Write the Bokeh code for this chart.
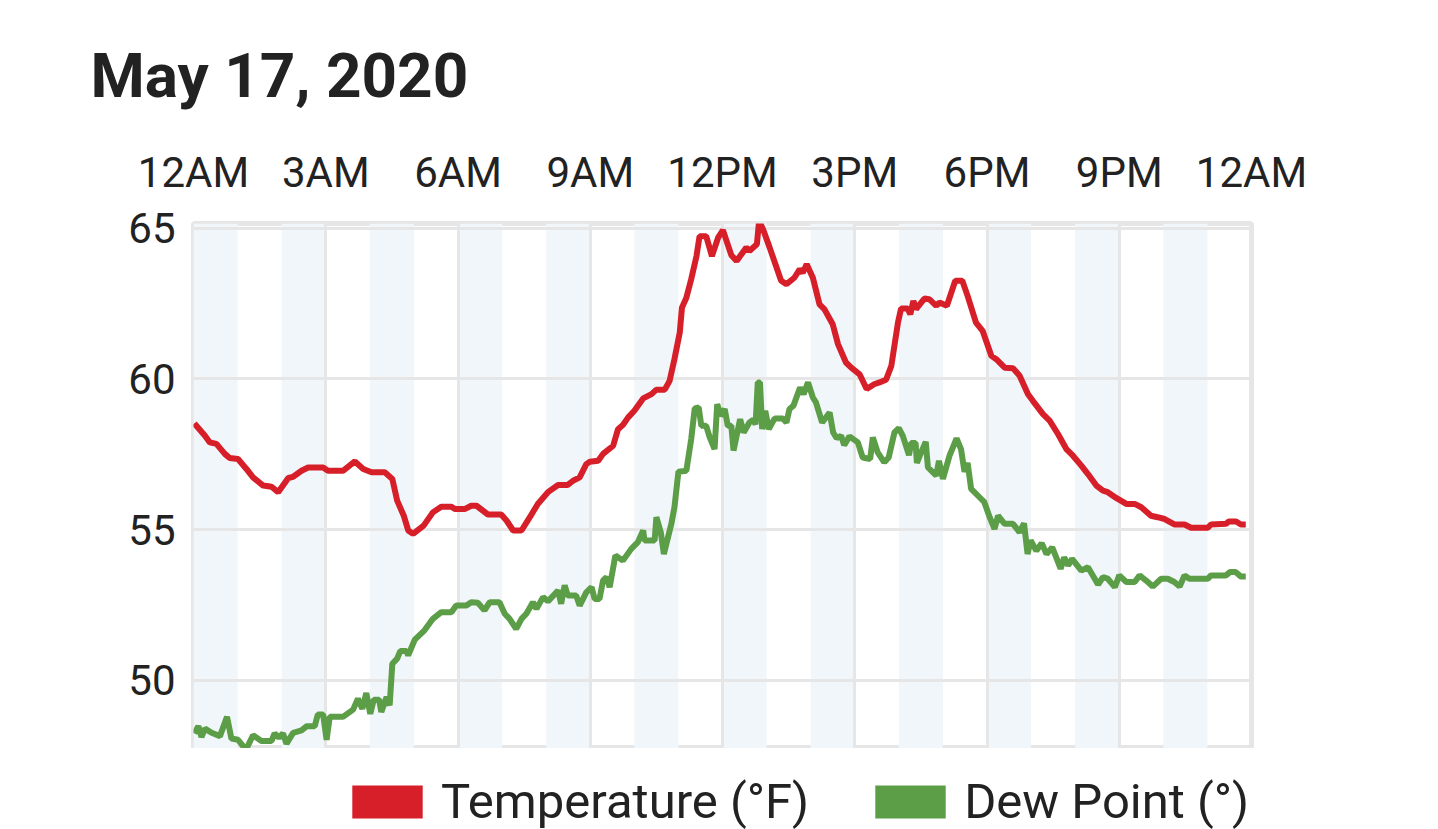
from bokeh.plotting import figure
from bokeh.models import FixedTicker, Range1d, Legend, LegendItem
from bokeh.layouts import column
from bokeh.embed import file_html
from bokeh.resources import INLINE

RED = "#d71f2a"
GREEN = "#5c9e48"
TXT = "#222222"
FONT = "Roboto"

title_text = "May 17, 2020"

temp_hours = [0.02, 0.26, 0.37, 0.52, 0.71, 0.82, 1.01, 1.2, 1.35, 1.58, 1.77, 1.92, 2.15, 2.26, 2.45, 2.6,
              2.94, 3.05, 3.39, 3.66, 3.85, 4.04, 4.34, 4.51, 4.62, 4.77, 4.87, 4.98, 5.22, 5.43, 5.62, 5.85,
              5.93, 6.15, 6.3, 6.42, 6.68, 6.98, 7.1, 7.25, 7.44, 7.63, 7.81, 8.04, 8.27, 8.49, 8.61, 8.76,
              8.91, 8.99, 9.18, 9.29, 9.52, 9.63, 9.74, 9.86, 10.0, 10.2, 10.39, 10.5, 10.69, 10.8, 10.91,
              11.03, 11.08, 11.18, 11.29, 11.41, 11.48, 11.63, 11.76, 11.9, 12.01, 12.2, 12.32, 12.54, 12.61,
              12.78, 12.83, 12.92, 13.07, 13.33, 13.45, 13.63, 13.75, 13.82, 13.91, 14.05, 14.2, 14.31, 14.5,
              14.62, 14.8, 14.92, 15.11, 15.27, 15.44, 15.56, 15.71, 15.83, 15.98, 16.05, 16.2, 16.26, 16.33,
              16.39, 16.58, 16.69, 16.85, 16.92, 17.09, 17.28, 17.44, 17.56, 17.75, 17.9, 18.1, 18.21, 18.4,
              18.59, 18.74, 18.93, 19.04, 19.27, 19.42, 19.61, 19.8, 19.95, 20.14, 20.29, 20.48, 20.63, 20.74,
              20.93, 21.16, 21.35, 21.5, 21.72, 21.87, 22.03, 22.25, 22.48, 22.63, 23.01, 23.08, 23.42, 23.49,
              23.65, 23.76, 23.87]
temp_f = [58.52, 58.11, 57.89, 57.84, 57.51, 57.37, 57.34, 57.01, 56.73, 56.46, 56.42, 56.24, 56.71, 56.75, 56.95, 57.06,
          57.06, 56.95, 56.95, 57.26, 57.01, 56.9, 56.9, 56.68, 55.96, 55.46, 54.97, 54.86, 55.13, 55.57, 55.76, 55.76,
          55.68, 55.68, 55.79, 55.79, 55.5, 55.5, 55.3, 54.97, 54.97, 55.41, 55.85, 56.24, 56.48, 56.48, 56.62, 56.73,
          57.17, 57.25, 57.28, 57.51, 57.78, 58.33, 58.47, 58.72, 58.94, 59.35, 59.49, 59.64, 59.64, 59.93, 60.65,
          61.53, 62.36, 62.69, 63.3, 64.07, 64.73, 64.73, 64.07, 64.68, 64.93, 64.1, 63.91, 64.35, 64.24,
          64.46, 65.23, 64.96, 64.35, 63.25, 63.14, 63.35, 63.63, 63.52, 63.8, 63.35, 62.47, 62.31, 61.81,
          61.15, 60.54, 60.37, 60.15, 59.66, 59.82, 59.88, 59.97, 60.43, 61.86, 62.33, 62.33, 62.14, 62.58,
          62.31, 62.66, 62.64, 62.42, 62.53, 62.42, 63.25, 63.25, 62.75, 61.86, 61.59, 60.76, 60.65, 60.37,
          60.35, 60.1, 59.49, 59.27, 58.83, 58.61, 58.17, 57.67, 57.45, 57.12, 56.84, 56.46, 56.29, 56.24,
          56.05, 55.85, 55.85, 55.74, 55.46, 55.41, 55.35, 55.17, 55.17, 55.06, 55.06, 55.17, 55.19, 55.27,
          55.27, 55.17, 55.17]

dew_hours = [0.02, 0.11, 0.18, 0.26, 0.41, 0.6, 0.76, 0.86, 1.01, 1.19, 1.35, 1.54, 1.77, 1.84, 1.94, 2.03, 2.11,
             2.26, 2.45, 2.57, 2.75, 2.82, 2.94, 3.02, 3.09, 3.39, 3.62, 3.73, 3.83, 3.92, 4.01, 4.09, 4.21, 4.26,
             4.38, 4.45, 4.51, 4.62, 4.69, 4.83, 4.87, 5.02, 5.24, 5.43, 5.62, 5.85, 5.96, 6.19, 6.3, 6.45, 6.6,
             6.72, 6.94, 7.06, 7.17, 7.32, 7.44, 7.55, 7.7, 7.78, 7.93, 8.04, 8.27, 8.34, 8.42, 8.49, 8.68, 8.76,
             8.91, 9.03, 9.1, 9.21, 9.29, 9.37, 9.44, 9.57, 9.74, 9.93, 10.08, 10.2, 10.23, 10.46, 10.5, 10.6,
             10.67, 10.84, 10.91, 11.0, 11.18, 11.29, 11.37, 11.46, 11.52, 11.63, 11.71, 11.82, 11.88, 11.96,
             12.05, 12.12, 12.2, 12.25, 12.4, 12.48, 12.61, 12.7, 12.75, 12.8, 12.85, 12.9, 12.97, 13.05, 13.18,
             13.37, 13.45, 13.52, 13.61, 13.76, 13.84, 13.94, 14.05, 14.12, 14.26, 14.43, 14.51, 14.59, 14.69,
             14.76, 14.88, 15.07, 15.18, 15.35, 15.41, 15.52, 15.67, 15.77, 15.9, 16.0, 16.09, 16.23, 16.28,
             16.38, 16.41, 16.49, 16.61, 16.66, 16.85, 16.91, 17.0, 17.15, 17.31, 17.41, 17.49, 17.56, 17.64,
             17.79, 17.94, 18.06, 18.17, 18.25, 18.4, 18.59, 18.74, 18.84, 18.92, 18.99, 19.12, 19.24, 19.35,
             19.48, 19.57, 19.67, 19.75, 19.84, 19.93, 20.14, 20.29, 20.52, 20.63, 20.74, 20.9, 21.0, 21.16,
             21.35, 21.46, 21.61, 21.76, 21.95, 22.1, 22.25, 22.37, 22.48, 22.59, 23.01, 23.08, 23.42, 23.51,
             23.64, 23.76, 23.87]
dew_f = [48.24, 48.48, 48.12, 48.4, 48.26, 48.15, 48.79, 48.07, 48.03, 47.7, 48.18, 47.99, 47.99, 48.24, 48.1, 48.24, 47.9,
         48.26, 48.34, 48.48, 48.48, 48.87, 48.87, 48.03, 48.79, 48.79, 49.03, 49.39, 49.06, 49.58, 48.89, 49.36, 49.36, 48.95,
         49.45, 49.17, 50.55, 50.72, 50.97, 50.97, 50.83, 51.35, 51.66, 52.04, 52.26, 52.26, 52.48, 52.48, 52.59, 52.57, 52.32,
         52.59, 52.59, 52.21, 52.04, 51.71, 52.04, 52.21, 52.59, 52.37, 52.76, 52.62, 52.98, 52.54, 53.15, 52.81, 52.81, 52.48,
         52.92, 53.09, 52.7, 52.7, 53.31, 53.42, 53.09, 54.14, 53.97, 54.36, 54.58, 54.97, 54.64, 54.64, 55.41, 54.91,
         54.19, 55.19, 55.74, 56.92, 56.95, 58.0, 59.02, 59.05, 58.44, 58.44, 58.06, 57.67, 59.16, 58.77,
         59.0, 58.44, 58.44, 57.62, 58.66, 58.22, 58.55, 58.64, 58.49, 59.88, 59.88, 58.33, 58.94, 58.33, 58.68,
         58.68, 58.55, 59.0, 59.11, 59.71, 59.49, 59.88, 59.38, 59.22, 58.55, 58.88, 58.22, 58.03, 58.11,
         57.8, 58.09, 57.89, 57.39, 57.34, 58.06, 57.56, 57.23, 57.39, 58.22, 58.36, 58.11, 57.47, 57.87,
         57.87, 57.21, 57.5, 57.91, 57.06, 56.79, 57.28, 56.68, 57.45, 58.02, 57.67, 56.92, 57.21, 56.35,
         56.13, 55.91, 55.41, 55.02, 55.46, 55.19, 55.19, 54.91, 55.21, 54.19, 54.64, 54.3, 54.55, 54.19,
         54.41, 54.08, 53.7, 54.08, 53.81, 54.03, 53.64, 53.75, 53.18, 53.42, 53.37, 53.09, 53.48, 53.26,
         53.26, 53.48, 53.31, 53.11, 53.37, 53.37, 53.26, 53.11, 53.48, 53.37, 53.37, 53.48, 53.48, 53.59,
         53.59, 53.44, 53.44]

band_start_hours = [0, 2, 4, 6, 8, 10, 12, 14, 16, 18, 20, 22]
x_tick_hours = [0, 3, 6, 9, 12, 15, 18, 21, 24]
x_tick_labels = ["12AM", "3AM", "6AM", "9AM", "12PM", "3PM", "6PM", "9PM", "12AM"]
y_ticks = [50, 55, 60, 65]
y_min, y_max = 47.74, 65.15
series_names = ["Temperature (°F)", "Dew Point (°)"]

W = 1438
p = figure(width=W, height=748, x_range=Range1d(0, 24), y_range=Range1d(y_min, y_max),
           x_axis_location="above", output_backend="svg", toolbar_location=None,
           min_border_left=193, min_border_right=W - 1251, min_border_top=223, min_border_bottom=0,
           background_fill_color="white", border_fill_color="white")

p.title.text = title_text
p.title.text_font = FONT
p.title.text_font_size = "62px"
p.title.text_font_style = "bold"
p.title.text_color = TXT
p.title.align = "left"
p.title.offset = -103
p.title.standoff = 66

# alternating hour bands
p.quad(left=band_start_hours, right=[h + 1 for h in band_start_hours],
       bottom=[y_min] * len(band_start_hours), top=[y_max] * len(band_start_hours),
       fill_color="#f1f6fb", line_color=None, level="image")

p.line(temp_hours, temp_f, line_color=RED, line_width=6)
p.line(dew_hours, dew_f, line_color=GREEN, line_width=6)

xa = p.xaxis[0]
xa.ticker = FixedTicker(ticks=x_tick_hours)
xa.major_label_overrides = {h: lab for h, lab in zip(x_tick_hours, x_tick_labels)}
ya = p.yaxis[0]
ya.ticker = FixedTicker(ticks=y_ticks)
for ax in (xa, ya):
    ax.axis_line_color = None
    ax.major_tick_line_color = None
    ax.minor_tick_line_color = None
    ax.major_tick_out = 0
    ax.major_tick_in = 0
    ax.major_label_text_font = FONT
    ax.major_label_text_font_size = "42px"
    ax.major_label_text_color = TXT
xa.major_label_standoff = 27
ya.major_label_standoff = 18

for g in (p.xgrid[0], p.ygrid[0]):
    g.grid_line_color = "#e6e6e6"
    g.grid_line_width = 3
p.xgrid[0].ticker = FixedTicker(ticks=x_tick_hours)
p.ygrid[0].ticker = FixedTicker(ticks=y_ticks)

p.outline_line_color = "#e6e6e6"
p.outline_line_width = 5

# legend strip below the chart (its frame lines up with the chart frame)
lg = figure(width=W, height=81, x_range=Range1d(0, 1), y_range=Range1d(0, 1),
            output_backend="svg", toolbar_location=None, min_border=0,
            background_fill_color="white", border_fill_color="white")
lg.axis.visible = False
lg.grid.visible = False
lg.outline_line_color = None
sw_t = lg.quad(left=[2], right=[3], top=[3], bottom=[2], fill_color=RED, line_color=None)
sw_d = lg.quad(left=[2], right=[3], top=[3], bottom=[2], fill_color=GREEN, line_color=None)
legend = Legend(items=[LegendItem(label=series_names[0], renderers=[sw_t]),
                       LegendItem(label=series_names[1], renderers=[sw_d])],
                orientation="horizontal", location=(150, -1),
                glyph_width=88, glyph_height=41, label_standoff=10, spacing=57,
                padding=0, margin=0, border_line_color=None, background_fill_alpha=0,
                label_text_font=FONT, label_text_font_size="49px", label_text_color=TXT)
lg.add_layout(legend, "center")

layout = column(p, lg, spacing=0)
open("out.html", "w").write(file_html(layout, INLINE))
